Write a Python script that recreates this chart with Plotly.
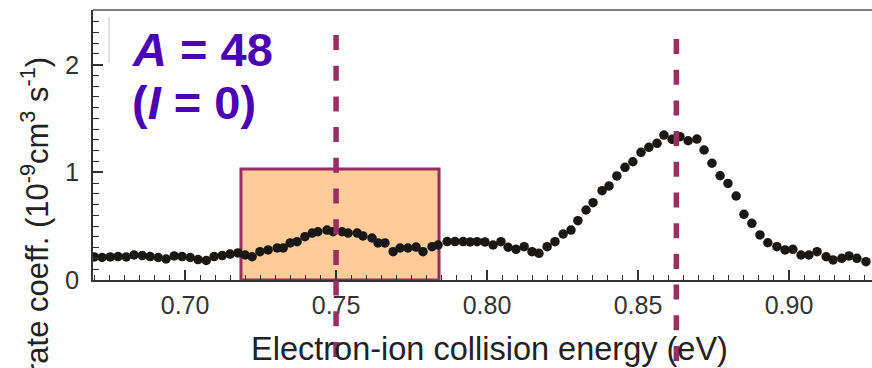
import plotly.graph_objects as go

# ---- data ----
energy_eV = [
    0.6699, 0.6725, 0.6752, 0.6778, 0.6805, 0.6831, 0.6858, 0.6884, 0.6911, 0.6937,
    0.6964, 0.6990, 0.7017, 0.7043, 0.7070, 0.7096, 0.7123, 0.7149, 0.7175, 0.7199,
    0.7222, 0.7248, 0.7275, 0.7305, 0.7325, 0.7348, 0.7371, 0.7397, 0.7421, 0.7440,
    0.7470, 0.7490, 0.7520, 0.7540, 0.7570, 0.7589, 0.7619, 0.7639, 0.7662, 0.7689,
    0.7712, 0.7738, 0.7765, 0.7788, 0.7818, 0.7838, 0.7868, 0.7894, 0.7921, 0.7944,
    0.7967, 0.7993, 0.8020, 0.8046, 0.8070, 0.8096, 0.8123, 0.8149, 0.8172, 0.8199,
    0.8225, 0.8252, 0.8278, 0.8301, 0.8328, 0.8351, 0.8381, 0.8404, 0.8430, 0.8457,
    0.8483, 0.8510, 0.8536, 0.8563, 0.8586, 0.8613, 0.8639, 0.8666, 0.8695, 0.8719,
    0.8745, 0.8772, 0.8798, 0.8825, 0.8851, 0.8877, 0.8904, 0.8930, 0.8960, 0.8987,
    0.9013, 0.9040, 0.9066, 0.9093, 0.9123, 0.9146, 0.9175, 0.9199, 0.9225, 0.9255,
]
rate_coeff = [
    0.214, 0.209, 0.214, 0.218, 0.214, 0.232, 0.227, 0.218, 0.209, 0.195,
    0.223, 0.218, 0.209, 0.190, 0.181, 0.218, 0.227, 0.241, 0.251, 0.232,
    0.216, 0.263, 0.279, 0.297, 0.297, 0.344, 0.356, 0.402, 0.436, 0.448,
    0.464, 0.448, 0.448, 0.436, 0.436, 0.409, 0.390, 0.344, 0.344, 0.263,
    0.297, 0.297, 0.306, 0.263, 0.309, 0.325, 0.357, 0.357, 0.357, 0.353,
    0.356, 0.353, 0.325, 0.356, 0.304, 0.285, 0.309, 0.263, 0.248, 0.309,
    0.356, 0.427, 0.464, 0.551, 0.650, 0.718, 0.829, 0.873, 0.966, 1.046,
    1.098, 1.186, 1.232, 1.269, 1.346, 1.306, 1.331, 1.293, 1.309, 1.207,
    1.084, 0.968, 0.897, 0.780, 0.610, 0.526, 0.418, 0.346, 0.309, 0.279,
    0.285, 0.232, 0.232, 0.263, 0.216, 0.186, 0.201, 0.223, 0.201, 0.170,
]
resonance_lines = [0.750, 0.8627]        # dashed vertical markers
highlight_box = [0.7185, 0.7841, 1.03]   # x0, x1, top of shaded window
x_range = [0.6695, 0.9275]
y_range = [0, 2.507]
x_tick_labels_fmt = ".2f"
label_line1 = "<i>A</i> = 48"
label_line2 = "(<i>I</i> = 0)"
x_title = "Electron-ion collision energy (eV)"
y_title = "rate coeff. (10<sup>-9</sup>cm<sup>3</sup> s<sup>-1</sup>)"

# ---- styling ----
FONT = "Arial, Liberation Sans, sans-serif"
AX = "#333333"
MAROON = "rgb(154,45,100)"
PURPLE = "#4B00B4"

W, H = 872, 368
L, R, T, B = 93, 0, 10, 88
pw, ph = W - L - R, H - T - B


def px_x(p):
    return (p - L) / pw


def px_y(p):
    return (H - B - p) / ph


fig = go.Figure()
fig.add_trace(go.Scatter(
    x=energy_eV, y=rate_coeff, mode="markers",
    marker=dict(size=9.5, color="#1a1717", line=dict(width=0)),
    hoverinfo="skip",
))

fig.update_layout(
    width=W, height=H,
    margin=dict(l=L, r=R, t=T, b=B, pad=0),
    plot_bgcolor="white", paper_bgcolor="white",
    showlegend=False,
    xaxis=dict(
        range=x_range, showline=True, linecolor=AX, linewidth=1.5,
        ticks="inside", ticklen=10, tickwidth=1.5, tickcolor=AX,
        tick0=0.7, dtick=0.05, tickformat=x_tick_labels_fmt,
        tickfont=dict(family=FONT, size=25, color=AX),
        ticklabelstandoff=2,
        showgrid=False, zeroline=False,
        minor=dict(ticks="inside", ticklen=5, tickwidth=1.2, tickcolor=AX,
                   tick0=0.7, dtick=0.005, showgrid=False),
    ),
    yaxis=dict(
        range=y_range, showline=True, linecolor=AX, linewidth=1.5,
        ticks="inside", ticklen=10, tickwidth=1.5, tickcolor=AX,
        tick0=0, dtick=1,
        tickfont=dict(family=FONT, size=25.5, color=AX),
        ticklabelstandoff=7,
        showgrid=False, zeroline=False,
        minor=dict(ticks="inside", ticklen=6, tickwidth=1.2, tickcolor=AX,
                   tick0=0, dtick=0.1, showgrid=False),
    ),
)

# shaded window
fig.add_shape(type="rect", xref="x", yref="y",
              x0=highlight_box[0], x1=highlight_box[1], y0=0, y1=highlight_box[2],
              fillcolor="rgb(255,203,152)", line=dict(color=MAROON, width=3),
              layer="below")

# top frame line
fig.add_shape(type="line", xref="paper", yref="paper", x0=0, x1=1, y0=1, y1=1,
              line=dict(color="#555555", width=1.5))
# faint artifact line near top-left
fig.add_shape(type="line", xref="paper", yref="paper",
              x0=px_x(109), x1=px_x(109), y0=px_y(17), y1=px_y(63),
              line=dict(color="#c8c8c8", width=1))

# dashed resonance lines (extend below the axis)
tops = [35, 39]
for xv, tp in zip(resonance_lines, tops):
    xp = (xv - x_range[0]) / (x_range[1] - x_range[0])
    fig.add_shape(type="line", xref="paper", yref="paper",
                  x0=xp, x1=xp, y0=px_y(tp), y1=px_y(380),
                  line=dict(color=MAROON, width=5.5, dash="15px,15.7px"),
                  layer="above")

# labels
fig.add_annotation(xref="paper", yref="paper", x=px_x(130), y=px_y(49),
                   xanchor="left", yanchor="middle", showarrow=False,
                   text=label_line1,
                   font=dict(family=FONT, size=47, color=PURPLE, weight="bold"))
fig.add_annotation(xref="paper", yref="paper", x=px_x(130), y=px_y(102),
                   xanchor="left", yanchor="middle", showarrow=False,
                   text=label_line2,
                   font=dict(family=FONT, size=47, color=PURPLE, weight="bold"))

# axis titles
fig.add_annotation(xref="paper", yref="paper", x=px_x(489.5), y=px_y(349),
                   xanchor="center", yanchor="middle", showarrow=False,
                   text=x_title, font=dict(family=FONT, size=32.5, color="#222222"))
fig.add_annotation(xref="paper", yref="paper", x=px_x(35), y=px_y(216),
                   xanchor="center", yanchor="middle", showarrow=False,
                   textangle=-90,
                   text=y_title, font=dict(family=FONT, size=31, color="#222222"))

fig.write_html("out.html")
